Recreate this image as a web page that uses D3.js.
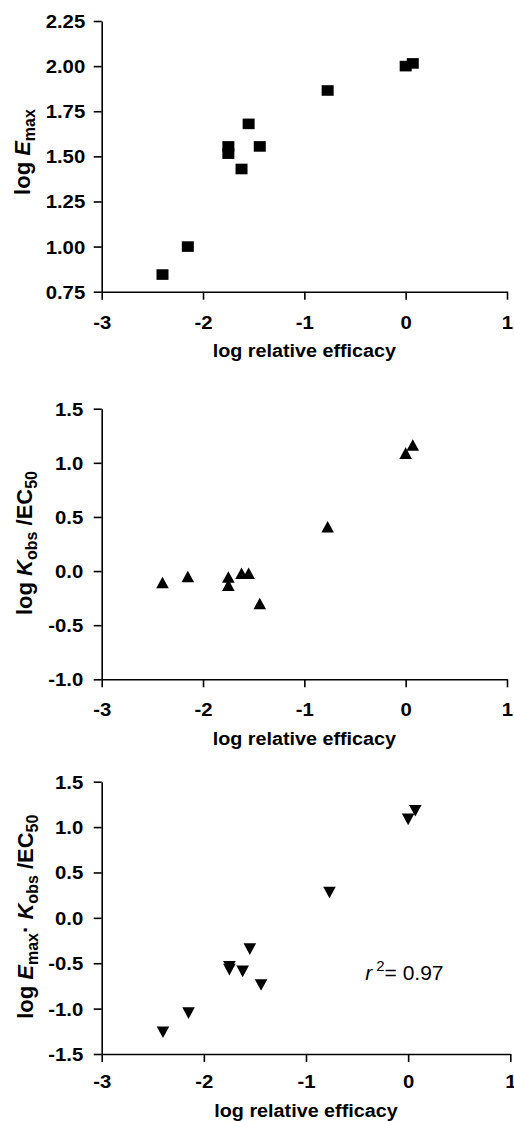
<!DOCTYPE html>
<html>
<head>
<meta charset="utf-8">
<script src="https://cdn.jsdelivr.net/npm/d3@7"></script>
<style>
    body { margin: 0; background: #fff; }
    svg { display: block; font-family: 'Liberation Sans', Arial, sans-serif; }
</style>
</head>
<body>
<div id="chart"></div>
<script>
// log relative efficacy, one value per agonist
var efficacy = [-2.40, -2.15, -1.75, -1.75, -1.62, -1.55, -1.44, -0.77, 0.00, 0.07];
var logEmax = [0.845, 1.00, 1.555, 1.515, 1.43, 1.68, 1.555, 1.865, 2.00, 2.015];
var logKobsEC50 = [-0.105, -0.05, -0.055, -0.13, -0.02, -0.02, -0.30, 0.41, 1.09, 1.165];
var logEmaxKobsEC50 = [-1.26, -1.05, -0.54, -0.57, -0.59, -0.345, -0.74, 0.28, 1.085, 1.18];

var xTicks = [-3, -2, -1, 0, 1];
var yTicksTop = [0.75, 1.00, 1.25, 1.50, 1.75, 2.00, 2.25];
var yTicksMid = [-1.0, -0.5, 0.0, 0.5, 1.0, 1.5];
var yTicksBot = [-1.5, -1.0, -0.5, 0.0, 0.5, 1.0, 1.5];

var width = 514,
    height = 1121,
    stretch = 1.13
;

// plain hyphen as minus sign, like the original figure
var locale = d3.formatLocale({ decimal: '.', thousands: ',', grouping: [3], currency: ['', ''], minus: '-' });

var svg = d3
    .select('#chart')
    .append('svg')
    .attr('width', width)
    .attr('height', height)
;

var panels = [
    {
        values: logEmax, ticks: yTicksTop, fmt: locale.format('.2f'), marker: 'square',
        left: 101.7, right: 507, top: 21, bottom: 291.7,
        yLabelGap: 16.5, xLabelGap: 25, titleGap: 65.6,
        yTitle: [{ t: 'log ' }, { t: 'E', i: true }, { t: 'max', sub: true }],
        yTitleX: 30, yTitleY: 152
    },
    {
        values: logKobsEC50, ticks: yTicksMid, fmt: locale.format('.1f'), marker: 'up',
        left: 101.7, right: 507, top: 408.7, bottom: 679.3,
        yLabelGap: 18.4, xLabelGap: 24, titleGap: 66,
        yTitle: [{ t: 'log ' }, { t: 'K', i: true }, { t: 'obs', sub: true }, { t: ' /EC' }, { t: '50', sub: true }],
        yTitleX: 32, yTitleY: 543
    },
    {
        values: logEmaxKobsEC50, ticks: yTicksBot, fmt: locale.format('.1f'), marker: 'down',
        left: 101.7, right: 510.3, top: 781.7, bottom: 1054,
        yLabelGap: 18.4, xLabelGap: 21, titleGap: 63,
        yTitle: [{ t: 'log ' }, { t: 'E', i: true }, { t: 'max', sub: true }, { t: '\u00b7 ' },
                 { t: 'K', i: true }, { t: 'obs', sub: true }, { t: ' /EC' }, { t: '50', sub: true }],
        yTitleX: 33, yTitleY: 916.7,
        note: { x: -0.42, y: -0.68 }
    }
];

function markerPath(type) {
    // marker outlines around the data point, in px
    if (type === 'square') return 'M-6,-5.3H6V5.3H-6Z';
    if (type === 'up') return 'M0,-5.8L6.3,5.8H-6.3Z';
    return 'M-6.3,-5.8H6.3L0,5.8Z';
}

function richText(sel, parts, size, subSize, shift) {
    var current = 0;
    parts.forEach(function(p) {
        var target = p.sub ? shift : 0;
        sel.append('tspan')
            .attr('dy', target - current)
            .style('font-size', (p.sub ? subSize : size) + 'px')
            .style('font-style', p.i ? 'italic' : 'normal')
            .text(p.t)
        ;
        current = target;
    });
}

function drawPanel(p) {
    var x = d3.scaleLinear()
        .domain([xTicks[0], xTicks[xTicks.length - 1]])
        .range([p.left, p.right])
    ;
    var y = d3.scaleLinear()
        .domain([p.ticks[0], p.ticks[p.ticks.length - 1]])
        .range([p.bottom, p.top])
    ;

    var g = svg.append('g');

    var yAxis = g.append('g')
        .attr('transform', 'translate(' + p.left + ',0)')
        .call(d3.axisLeft(y)
            .tickValues(p.ticks)
            .tickFormat(p.fmt)
            .tickSizeInner(8)
            .tickSizeOuter(0)
            .tickPadding(p.yLabelGap / stretch - 8))
    ;

    var xAxis = g.append('g')
        .attr('transform', 'translate(0,' + p.bottom + ')')
        .call(d3.axisBottom(x)
            .tickValues(xTicks)
            .tickFormat(locale.format('d'))
            .tickSizeInner(8)
            .tickSizeOuter(0)
            .tickPadding(p.xLabelGap - 8))
    ;

    [yAxis, xAxis].forEach(function(a) {
        a.select('.domain').attr('stroke', '#000').attr('stroke-width', 1.6);
        a.selectAll('.tick line').attr('stroke', '#000').attr('stroke-width', 1.6);
        a.selectAll('.tick text')
            .attr('fill', '#000')
            .attr('transform', 'scale(' + stretch + ',1)')
            .style('font-size', '18px')
            .style('font-weight', 'bold')
            .style('font-family', "'Liberation Sans', Arial, sans-serif")
        ;
    });
    yAxis.selectAll('.tick text').attr('dy', '0.36em');

    // x axis title
    g.append('text')
        .attr('transform', 'translate(' + ((p.left + p.right) / 2) + ',' + (p.bottom + p.titleGap) + ') scale(' + stretch + ',1)')
        .attr('text-anchor', 'middle')
        .style('font-size', '17.5px')
        .style('font-weight', 'bold')
        .text('log relative efficacy')
    ;

    // y axis title
    var yt = g.append('text')
        .attr('transform', 'translate(' + p.yTitleX + ',' + p.yTitleY + ') rotate(-90)')
        .attr('text-anchor', 'middle')
        .style('font-weight', 'bold')
    ;
    richText(yt, p.yTitle, 22, 16, 5);

    // points
    g.selectAll('path.pt')
        .data(efficacy.map(function(d, i) { return [d, p.values[i]]; }))
        .enter()
        .append('path')
        .attr('class', 'pt')
        .attr('d', markerPath(p.marker))
        .attr('transform', function(d) {
            return 'translate(' + x(d[0]) + ',' + y(d[1]) + ')';
        })
        .attr('fill', '#000')
    ;

    if (p.note) {
        var nt = g.append('text')
            .attr('x', x(p.note.x))
            .attr('y', y(p.note.y))
            .style('font-size', '21px')
        ;
        nt.append('tspan').style('font-style', 'italic').text('r');
        nt.append('tspan').attr('dx', 4).attr('dy', -9).style('font-size', '15px').text('2');
        nt.append('tspan').attr('dy', 9).text('= 0.97');
    }
}

panels.forEach(drawPanel);
</script>
</body>
</html>
